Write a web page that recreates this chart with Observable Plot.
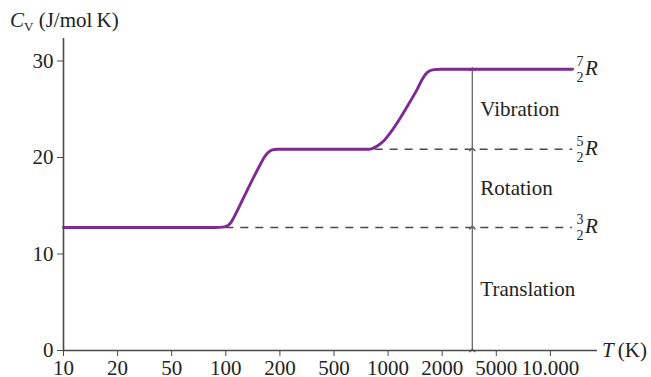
<!DOCTYPE html>
<html><head><meta charset="utf-8">
<script src="https://cdn.jsdelivr.net/npm/d3@7"></script>
<script src="https://cdn.jsdelivr.net/npm/@observablehq/plot@0.6"></script>
<style>body{margin:0;background:#fff}</style>
</head><body><div id="chart"></div>
<script>
// Heat capacity curve (T in K, Cv in J/mol K)
const temps = [10, 90, 97, 104, 110, 115, 139, 164, 172, 179, 186, 195, 210, 800, 838, 900, 961, 1046, 1231, 1416, 1540, 1632, 1725, 1847, 1971, 2100, 14100];
const cv    = [12.75, 12.75, 12.78, 12.95, 13.3, 13.8, 16.55, 19.3, 20.1, 20.55, 20.78, 20.85, 20.85, 20.85, 20.87, 21.2, 21.74, 22.6, 24.15, 25.88, 27.09, 28.12, 28.81, 29.1, 29.15, 29.15, 29.15];
const xBreaks = [10, 20, 50, 100, 200, 500, 1000, 2000, 5000, 10000, 20000];
const xTicks = [10, 20, 50, 100, 200, 500, 1000, 2000, 5000, 10000];
const xTickLabels = ["10", "20", "50", "100", "200", "500", "1000", "2000", "5000", "10.000"];
const yTicks = [0, 10, 20, 30];
const levels = [12.75, 20.85, 29.15];
const levelNumerators = ["3", "5", "7"];
const levelDashStart = [100, 880];
const bandNames = ["Translation", "Rotation", "Vibration"];
const tEnd = 14100, tArrow = 3670, tAxisEnd = 18700, yMax = 32.33;

const curve = temps.map((t, i) => ({t, c: cv[i]}));
const bands = bandNames.map((name, i) => ({name, lo: i === 0 ? 0 : levels[i - 1], hi: levels[i]}));
const dashes = levelDashStart.map((s, i) => ({s, v: levels[i]}));

const ink = "#4a4a4a";
const serif = "'Liberation Serif','Times New Roman',serif";
const chart = Plot.plot({
  width: 651, height: 377,
  marginLeft: 63, marginRight: 47, marginTop: 38, marginBottom: 27,
  style: {fontFamily: serif, fontSize: "21px", background: "#fff", color: "#222"},
  x: {type: "linear", domain: xBreaks},
  y: {domain: [0, yMax]},
  marks: [
    Plot.ruleY(dashes, {y: "v", x1: "s", x2: tEnd, stroke: ink, strokeWidth: 1.5, strokeDasharray: "8,7"}),
    Plot.link(bands, {x1: tArrow, x2: tArrow, y1: "lo", y2: "hi", stroke: "#666", strokeWidth: 1.3, markerStart: "arrow", markerEnd: "arrow"}),
    Plot.text(bands, {x: tArrow, y: d => (d.lo + d.hi) / 2, text: "name", textAnchor: "start", dx: 8, fill: "#222"}),
    Plot.line(curve, {x: "t", y: "c", stroke: "#7d2a92", strokeWidth: 2.9, curve: "monotone-x"}),
    Plot.ruleY([0], {x1: 10, x2: tAxisEnd, stroke: ink, strokeWidth: 1.6}),
    Plot.ruleX([10], {y1: 0, y2: yMax, stroke: ink, strokeWidth: 1.6}),
    Plot.axisX(xTicks, {tickFormat: d => xTickLabels[xTicks.indexOf(d)], tickSize: 6, tickPadding: 4, stroke: ink, label: null}),
    Plot.axisY(yTicks, {tickSize: 6, tickPadding: 4, stroke: ink, label: null})
  ]
});
document.getElementById("chart").appendChild(chart);

const svg = d3.select(chart);
const sx = chart.scale("x"), sy = chart.scale("y");
const g = svg.append("g").attr("font-family", serif).attr("fill", "#222").attr("text-anchor", "start");

// y-axis label
const yl = g.append("text").attr("x", sx.apply(10) - 53).attr("y", sy.apply(yMax) - 11).attr("font-size", 21);
yl.append("tspan").attr("font-style", "italic").text("C");
yl.append("tspan").attr("font-size", 13).attr("dy", 4).text("V");
yl.append("tspan").attr("dy", -4).text(" (J/mol\u2009K)");

// x-axis label
const xl = g.append("text").attr("x", sx.apply(tAxisEnd) + 5).attr("y", sy.apply(0) + 7).attr("font-size", 21);
xl.append("tspan").attr("font-style", "italic").text("T");
xl.append("tspan").text("\u2009(K)");

// level labels  n/2 R
levels.forEach((v, i) => {
  const x0 = sx.apply(tEnd) + 8, y0 = sy.apply(v);
  g.append("text").attr("x", x0).attr("y", y0 - 3).attr("font-size", 14).attr("text-anchor", "middle").text(levelNumerators[i]);
  g.append("text").attr("x", x0).attr("y", y0 + 13).attr("font-size", 14).attr("text-anchor", "middle").text("2");
  g.append("text").attr("x", x0 + 5).attr("y", y0 + 6).attr("font-size", 21).attr("font-style", "italic").text("R");
});
</script>
</body></html>
